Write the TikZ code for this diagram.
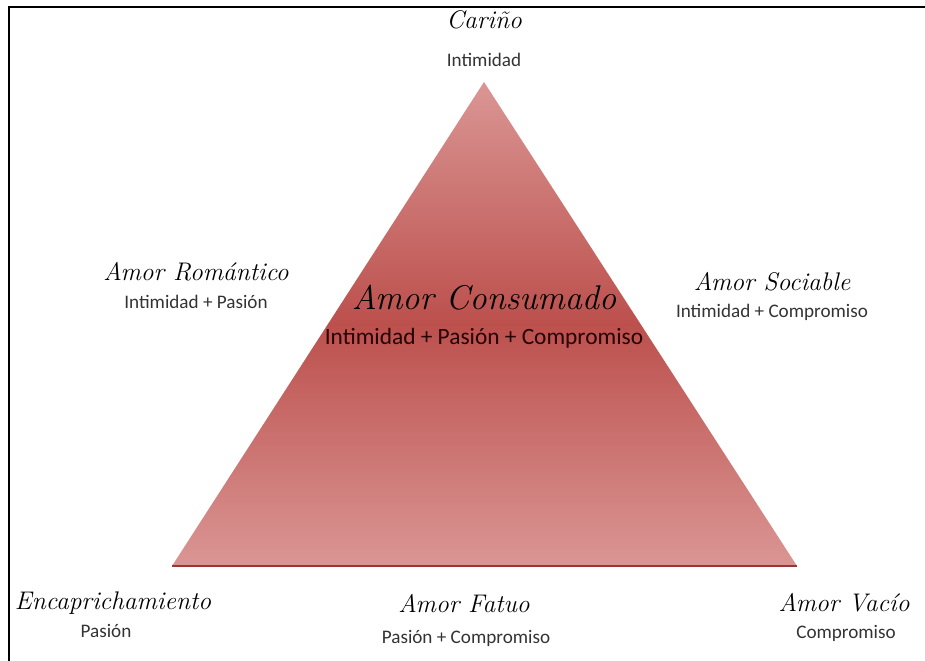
\documentclass[tikz,border=0pt]{standalone}
\usepackage{fontspec}
\setsansfont{Carlito}
\usetikzlibrary{positioning}
\definecolor{triLight}{RGB}{218,150,148}
\definecolor{triDark}{RGB}{188,80,77}
\definecolor{triEdge}{RGB}{150,55,52}
\tikzset{%
  % Specifications for style of nodes:
        title/.style = {font=\itshape\fontsize{14.5}{16}\selectfont, inner sep=1pt},
     bigtitle/.style = {font=\itshape\fontsize{19.5}{22}\selectfont, inner sep=1pt},
         part/.style = {font=\sffamily\fontsize{10.9}{12}\selectfont, text=black!80, inner sep=1pt},
      bigpart/.style = {font=\sffamily\fontsize{13.3}{15}\selectfont, text=black!85!red, inner sep=1pt},
}
\begin{document}
\begin{tikzpicture}[x=0.02cm, y=0.02cm, node distance=0.6cm]
  \useasboundingbox (0,0) rectangle (925,661);

  % Frame
  \draw[line width=1.2pt] (9,0) -- (9,654) -- (925,654);

  % Triangle
  \coordinate (apex) at (484,579);
  \coordinate (left) at (172,95);
  \coordinate (right) at (797,95);
  \shade[top color=triLight, bottom color=triLight, middle color=triDark]
        (apex) -- (right) -- (left) -- cycle;
  \draw[triEdge, line width=1.5pt] (left) -- (right);

  % Labels
  \node(carino)          [title] at (484,641)      {Cariño};
  \node(carinoSub)       [part, below of=carino, yshift=-0.2cm] {Intimidad};

  \node(romantico)       [title] at (196,389)      {Amor Romántico};
  \node(romanticoSub)    [part, below of=romantico] {Intimidad + Pasión};

  \node(consumado)       [bigtitle] at (484,363)   {Amor Consumado};
  \node(consumadoSub)    [bigpart, below of=consumado, yshift=-0.2cm] {Intimidad + Pasión + Compromiso};

  \node(sociable)        [title] at (772,379)      {Amor Sociable};
  \node(sociableSub)     [part, below of=sociable] {Intimidad + Compromiso};

  \node(encapricho)      [title] at (113,58)       {Encaprichamiento};
  \node(encaprichoSub)   [part, below of=encapricho, xshift=-0.14cm, yshift=0.04cm] {Pasión};

  \node(fatuo)           [title] at (464,57)       {Amor Fatuo};
  \node(fatuoSub)        [part, below of=fatuo, xshift=0.04cm, yshift=-0.08cm] {Pasión + Compromiso};

  \node(vacio)           [title] at (844,58)       {Amor Vacío};
  \node(vacioSub)        [part, below of=vacio, xshift=0.04cm] {Compromiso};
\end{tikzpicture}
\end{document}
